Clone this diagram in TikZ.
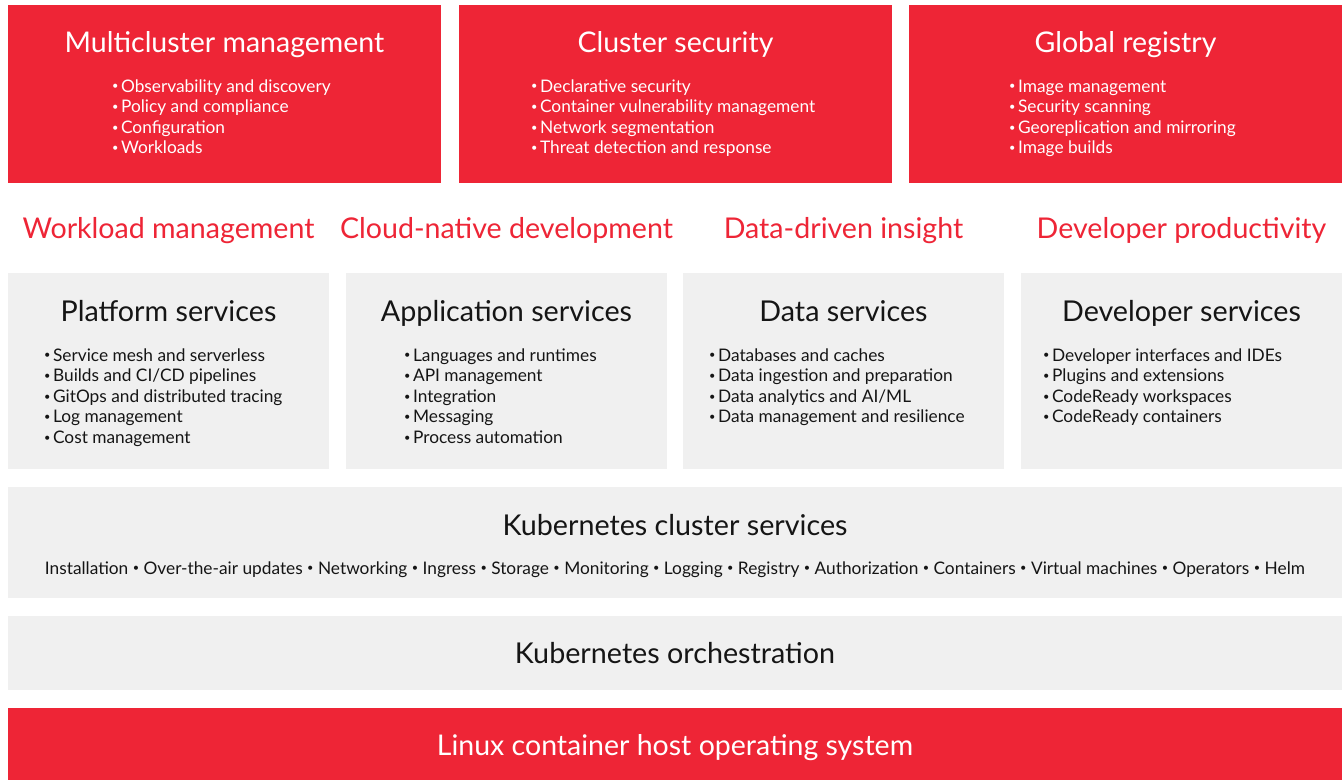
\documentclass[tikz,border=0pt]{standalone}
\usepackage{fontspec}
\setmainfont{Lato}
\definecolor{rhred}{HTML}{EE2536}
\definecolor{rhgray}{HTML}{F0F0F0}
\definecolor{rhtext}{HTML}{151515}
\newcommand\smbul{\raisebox{0.12em}{\fontsize{11}{11}\selectfont •}}
\begin{document}
\begin{tikzpicture}[x=1pt,y=-1pt,
  box/.style={rectangle,inner sep=0pt,outer sep=0pt,draw=none},
  redbox/.style={box,fill=rhred},
  graybox/.style={box,fill=rhgray},
  wtitle/.style={anchor=base,inner sep=0pt,text=white,font=\fontsize{28.5}{33}\selectfont},
  btitle/.style={anchor=base,inner sep=0pt,text=rhtext,font=\fontsize{28.7}{33}\selectfont},
  rhead/.style={anchor=base,inner sep=0pt,text=rhred,font=\fontsize{28.6}{33}\selectfont},
  wbul/.style={anchor=base west,inner sep=0pt,text=white,font=\fontsize{17.3}{20}\selectfont},
  bbul/.style={anchor=base west,inner sep=0pt,text=rhtext,font=\fontsize{17.3}{20}\selectfont},
]
\useasboundingbox (0,0) rectangle (1344,780);
\fill[white] (0,0) rectangle (1344,780);
% top red boxes
\node[redbox,minimum width=433,minimum height=178] (mc) at (224.5,94) {};
\node[redbox,minimum width=433,minimum height=178] (cs) at (675.5,94) {};
\node[redbox,minimum width=433,minimum height=178] (gr) at (1125.5,94) {};
\node[wtitle] (mct) at (224.5,52) {Multicluster management};
\node[wtitle] (cst) at (675.5,52) {Cluster security};
\node[wtitle] (grt) at (1125.5,52) {Global registry};
\foreach \t [count=\i] in {Observability and discovery,Policy and compliance,Configuration,Workloads}
  \node[wbul] (mcb\i) at (112,92+20.6*\i-20.6) {\smbul\hspace{2.5pt}\t};
\foreach \t [count=\i] in {Declarative security,Container vulnerability management,Network segmentation,Threat detection and response}
  \node[wbul] (csb\i) at (531,92+20.6*\i-20.6) {\smbul\hspace{2.5pt}\t};
\foreach \t [count=\i] in {Image management,Security scanning,Georeplication and mirroring,Image builds}
  \node[wbul] (grb\i) at (1009,92+20.6*\i-20.6) {\smbul\hspace{2.5pt}\t};
% red headings
\node[rhead] (h1) at (168.5,238) {Workload management};
\node[rhead] (h2) at (506.5,238) {Cloud-native development};
\node[rhead] (h3) at (843.5,238) {Data-driven insight};
\node[rhead] (h4) at (1181.5,238) {Developer productivity};
% service boxes
\node[graybox,minimum width=321,minimum height=196] (ps) at (168.5,371) {};
\node[graybox,minimum width=321,minimum height=196] (as) at (506.5,371) {};
\node[graybox,minimum width=321,minimum height=196] (ds) at (843.5,371) {};
\node[graybox,minimum width=321,minimum height=196] (dv) at (1181.5,371) {};
\node[btitle] (pst) at (168.5,321) {Platform services};
\node[btitle] (ast) at (506.5,321) {Application services};
\node[btitle] (dst) at (843.5,321) {Data services};
\node[btitle] (dvt) at (1181.5,321) {Developer services};
\foreach \t [count=\i] in {Service mesh and serverless,Builds and CI/CD pipelines,GitOps and distributed tracing,Log management,Cost management}
  \node[bbul] (psb\i) at (44,361+20.6*\i-20.6) {\smbul\hspace{2.5pt}\t};
\foreach \t [count=\i] in {Languages and runtimes,API management,Integration,Messaging,Process automation}
  \node[bbul] (asb\i) at (404,361+20.6*\i-20.6) {\smbul\hspace{2.5pt}\t};
\foreach \t [count=\i] in {Databases and caches,Data ingestion and preparation,Data analytics and AI/ML,Data management and resilience}
  \node[bbul] (dsb\i) at (709,361+20.6*\i-20.6) {\smbul\hspace{2.5pt}\t};
\foreach \t [count=\i] in {Developer interfaces and IDEs,Plugins and extensions,CodeReady workspaces,CodeReady containers}
  \node[bbul] (dvb\i) at (1043,361+20.6*\i-20.6) {\smbul\hspace{2.5pt}\t};
% kubernetes cluster services
\node[graybox,minimum width=1334,minimum height=111] (kcs) at (675,542.5) {};
\node[btitle] (kcst) at (675,535) {Kubernetes cluster services};
\node[bbul,anchor=base] (kcsl) at (675,574) {Installation \smbul{} Over-the-air updates \smbul{} Networking \smbul{} Ingress \smbul{} Storage \smbul{} Monitoring \smbul{} Logging \smbul{} Registry \smbul{} Authorization \smbul{} Containers \smbul{} Virtual machines \smbul{} Operators \smbul{} Helm};
% orchestration
\node[graybox,minimum width=1334,minimum height=74] (ko) at (675,653) {};
\node[btitle] (kot) at (675,663) {Kubernetes orchestration};
% linux
\node[redbox,minimum width=1334,minimum height=72] (lx) at (675,744) {};
\node[wtitle] (lxt) at (675,755) {Linux container host operating system};
\end{tikzpicture}
\end{document}
